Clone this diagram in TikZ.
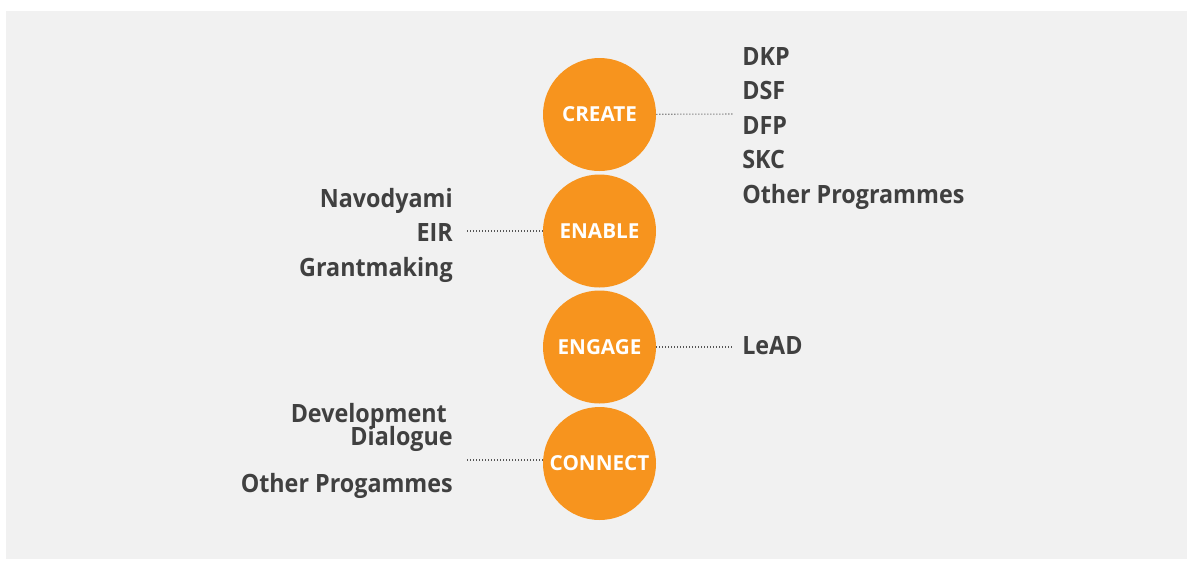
\documentclass[tikz,border=0pt]{standalone}
\usepackage{fontspec}
\setmainfont{Open Sans}
\newfontfamily\progface[FakeStretch=0.925]{Open Sans}
\usetikzlibrary{positioning}
\definecolor{pillorange}{RGB}{247,148,30}
\definecolor{panelgray}{RGB}{241,241,241}
\definecolor{labelgray}{RGB}{64,64,64}
\definecolor{dotgray}{RGB}{85,85,85}

\begin{document}
\begin{tikzpicture}[x=0.75pt, y=-0.75pt,
        pillar/.style={circle, fill=pillorange, minimum size=84.75pt, inner sep=0pt, text=white, font=\fontsize{15.5}{19}\selectfont\bfseries},
        prog/.style={inner sep=0pt, text=labelgray, font=\progface\fontsize{18.9}{20}\selectfont\bfseries},
        dotline/.style={draw=dotgray, line width=0.8pt, dash pattern=on 0.8pt off 1.45pt}]
        \useasboundingbox (0,0) rectangle (1187,561);
        \fill[panelgray] (6,11) rectangle (1187,559);

        % the four pillars
        \node[pillar] (create) at (599.5,114.5) {CREATE};
        \node[pillar] (enable) at (599.5,231) {ENABLE};
        \node[pillar] (engage) at (599.5,347) {ENGAGE};
        \node[pillar] (connect) at (599.5,463.5) {CONNECT};

        % programmes on the right
        \node[prog, anchor=base west] (dkp) at (742,65) {DKP};
        \node[prog, anchor=base west] (dsf) at (742,99.5) {DSF};
        \node[prog, anchor=base west] (dfp) at (742,134) {DFP};
        \node[prog, anchor=base west] (skc) at (742,168.5) {SKC};
        \node[prog, anchor=base west] (otherright) at (742,203) {Other Programmes};
        \node[prog, anchor=base west] (lead) at (742,354) {LeAD};

        % programmes on the left
        \node[prog, anchor=base east] (navodyami) at (453,207) {Navodyami};
        \node[prog, anchor=base east] (eir) at (453,241.5) {EIR};
        \node[prog, anchor=base east] (grants) at (453,276) {Grantmaking};
        \node[prog, anchor=base east] (devdia) at (447,422) {Development};
        \node[prog, anchor=base east] (dialogue) at (453,445) {Dialogue};
        \node[prog, anchor=base east] (otherleft) at (453,492) {Other Progammes};

        % dotted leaders
        \coordinate (createend) at (733,114);
        \coordinate (enableend) at (467,231);
        \coordinate (engageend) at (733,347);
        \coordinate (connectend) at (467,460);
        \draw[dotline] (create) -- (createend);
        \draw[dotline] (enable) -- (enableend);
        \draw[dotline] (engage) -- (engageend);
        \draw[dotline] (connect.west |- connectend) -- (connectend);
    \end{tikzpicture}
\end{document}
